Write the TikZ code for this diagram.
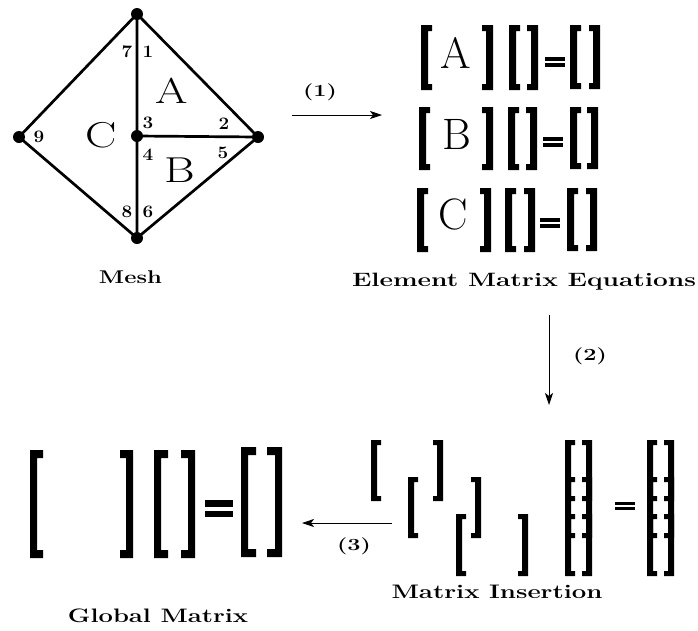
\documentclass[tikz,border=0pt]{standalone}
\usepackage{graphicx}
\usetikzlibrary{arrows.meta}
\newcommand{\mkLB}[6]{\fill (#1,#2) -- ({#1+#4},#2) -- ({#1+#4},{#2+#6}) -- ({#1+#5},{#2+#6}) -- ({#1+#5},{#3-#6}) -- ({#1+#4},{#3-#6}) -- ({#1+#4},#3) -- (#1,#3) -- cycle;}
\newcommand{\mkRB}[6]{\fill (#1,#2) -- ({#1-#4},#2) -- ({#1-#4},{#2+#6}) -- ({#1-#5},{#2+#6}) -- ({#1-#5},{#3-#6}) -- ({#1-#4},{#3-#6}) -- ({#1-#4},#3) -- (#1,#3) -- cycle;}
\newcommand{\mkEq}[5]{\fill (#1,{#3-#5/2-#4}) rectangle (#2,{#3-#5/2}); \fill (#1,{#3+#5/2}) rectangle (#2,{#3+#5/2+#4});}
\newcommand{\sxw}[2]{\scalebox{#1}[1]{#2}}
\newcommand{\fitbox}[3]{\resizebox{#1}{#2}{\bfseries #3}}
\begin{document}
\begin{tikzpicture}[x=1pt,y=-1pt,
  lab/.style={inner sep=0pt,anchor=base,font=\fontsize{17}{20}\selectfont\bfseries},
  num/.style={inner sep=0pt,font=\fontsize{17.5}{20}\selectfont\bfseries},
  big/.style={inner sep=0pt,font=\fontsize{36}{40}\selectfont},
  eqlet/.style={inner sep=0pt,font=\fontsize{44}{48}\selectfont},
  vert/.style={circle,fill=black,inner sep=0pt,minimum size=12pt},
  edge/.style={line width=2.7pt},
  flow/.style={line width=0.8pt,-{Stealth[length=12pt,width=8pt,inset=3pt]}}]
\useasboundingbox (0,0) rectangle (698,630);
% mesh
\node[vert] (vt) at (137,14) {};
\node[vert] (vl) at (19,137) {};
\node[vert] (vc) at (137,136) {};
\node[vert] (vr) at (258,137) {};
\node[vert] (vb) at (137,238) {};
\draw[edge] (vt.center) -- (vl.center) -- (vb.center) -- (vr.center) -- (vt.center) -- (vb.center);
\draw[edge] (vc.center) -- (vr.center);
\node[big] (mA) at (172,91) {\sxw{1.3}{A}};
\node[big] (mB) at (180,170) {\sxw{1.3}{B}};
\node[big] (mC) at (101,135) {\sxw{1.3}{C}};
\node[num] (n7) at (127,52) {\sxw{1.08}{7}};
\node[num] (n1) at (148,52) {\sxw{1.08}{1}};
\node[num] (n3) at (148,123) {\sxw{1.08}{3}};
\node[num] (n2) at (224,124) {\sxw{1.08}{2}};
\node[num] (n9) at (39,137) {\sxw{1.08}{9}};
\node[num] (n4) at (148,155) {\sxw{1.08}{4}};
\node[num] (n5) at (223,153) {\sxw{1.08}{5}};
\node[num] (n8) at (127,212) {\sxw{1.08}{8}};
\node[num] (n6) at (148,212) {\sxw{1.08}{6}};
\node[lab] (tmesh) at (130.5,283) {\fitbox{63pt}{12.8pt}{Mesh}};
% element matrix equations
\node[eqlet] (eA) at (456,53) {A};
\node[eqlet] (eB) at (457,134) {B};
\node[eqlet] (eC) at (453,214) {C};
\mkLB{421}{25}{90}{11}{7}{6} \mkRB{493}{25}{90}{11}{7}{6}
\mkLB{509}{25}{90}{11}{7}{6} \mkRB{538}{25}{90}{11}{7}{6}
\mkEq{545}{565}{62}{4}{2}
\mkLB{570}{25}{89}{11}{7}{6} \mkRB{600}{25}{89}{11}{7}{6}
\mkLB{419}{107}{170}{11}{7}{6} \mkRB{493}{107}{170}{11}{7}{6}
\mkLB{508}{107}{170}{11}{7}{6} \mkRB{537}{107}{170}{11}{7}{6}
\mkEq{543}{563}{142}{4}{2}
\mkLB{570}{107}{169}{11}{7}{6} \mkRB{598}{107}{169}{11}{7}{6}
\mkLB{417}{188}{252}{11}{7}{6} \mkRB{491}{188}{252}{11}{7}{6}
\mkLB{505}{188}{252}{11}{7}{6} \mkRB{535}{188}{252}{11}{7}{6}
\mkEq{540}{560}{223}{4}{2}
\mkLB{567}{188}{251}{11}{7}{6} \mkRB{597}{188}{251}{11}{7}{6}
\node[lab] (tele) at (524,286) {\fitbox{344pt}{13.4pt}{Element Matrix Equations}};
% matrix insertion
\mkLB{371}{440}{501}{10}{6}{5} \mkRB{443}{440}{501}{10}{6}{5}
\mkLB{408}{477}{538}{10}{6}{5} \mkRB{481}{477}{538}{10}{6}{5}
\mkLB{456}{514}{576}{10}{6}{5} \mkRB{528}{514}{576}{10}{6}{5}
\foreach \t/\b in {440/501,477/538,514/576}{
  \mkLB{565}{\t}{\b}{10}{6}{5} \mkRB{592}{\t}{\b}{10}{6}{5}
  \mkLB{647}{\t}{\b}{10}{6}{5} \mkRB{674}{\t}{\b}{10}{6}{5}
}
\mkEq{615}{635}{506}{3.5}{1.5}
\node[lab] (tins) at (497,598) {\fitbox{211pt}{13.4pt}{Matrix Insertion}};
% global matrix
\mkLB{30}{450}{558}{13}{7}{8} \mkRB{133}{450}{558}{13}{7}{8}
\mkLB{154}{450}{558}{14}{7}{8} \mkRB{195}{450}{558}{14}{7}{8}
\fill (205,500) rectangle (233,506.5);
\fill (205,510.5) rectangle (233,517);
\mkLB{241}{447}{557}{15}{7}{8} \mkRB{282}{447}{557}{15}{7}{8}
\node[lab] (tglob) at (158,622) {\fitbox{180pt}{13.6pt}{Global Matrix}};
% arrows
\coordinate (a1s) at (292,115); \coordinate (a1e) at (382,115);
\coordinate (a2s) at (549,315); \coordinate (a2e) at (549,405);
\coordinate (a3s) at (392,523); \coordinate (a3e) at (302,523);
\draw[flow] (a1s) -- (a1e);
\draw[flow] (a2s) -- (a2e);
\draw[flow] (a3s) -- (a3e);
\node[lab,anchor=center] (l1) at (320,92) {\sxw{1.38}{(1)}};
\node[lab,anchor=center] (l2) at (590,356) {\sxw{1.38}{(2)}};
\node[lab,anchor=center] (l3) at (354,546) {\sxw{1.38}{(3)}};
\end{tikzpicture}
\end{document}
